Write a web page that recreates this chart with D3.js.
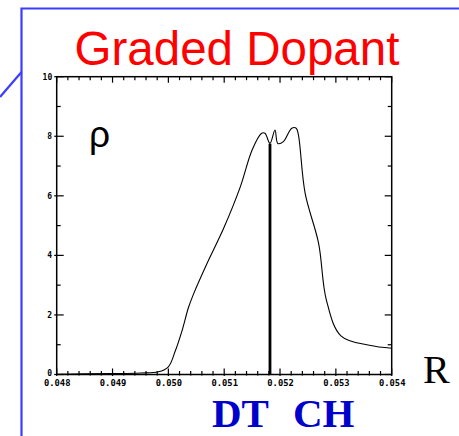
<!DOCTYPE html>
<html><head><meta charset="utf-8">
<script src="https://cdn.jsdelivr.net/npm/d3@7"></script>
<style>body{margin:0;background:#fff;}svg{display:block;}</style>
</head><body>
<script>
// Data
const radius = [0.0480,0.0485,0.0490,0.0495,0.04982,0.05000,0.05012,0.05024,0.05036,0.05045,0.05069,0.05099,0.05129,0.05150,0.05167,0.05173,0.05182,0.05191,0.05196,0.05206,0.05221,0.05229,0.05233,0.05245,0.05269,0.05283,0.05309,0.05360,0.05400];
const density = [0.01,0.02,0.03,0.05,0.09,0.26,0.77,1.44,2.25,2.70,3.72,4.91,6.31,7.54,8.10,8.10,7.76,8.21,7.76,7.82,8.27,8.27,8.04,6.08,4.41,2.50,1.30,0.98,0.88];
const interfaceR = 0.05182, interfaceTop = 7.75;
const xMajor = [0.048,0.049,0.050,0.051,0.052,0.053,0.054];
const xMinor = [0.0482,0.0484,0.0486,0.0488,0.0492,0.0494,0.0496,0.0498,0.0502,0.0504,0.0506,0.0508,0.0512,0.0514,0.0516,0.0518,0.0522,0.0524,0.0526,0.0528,0.0532,0.0534,0.0536,0.0538];
const yMajor = [0,2,4,6,8,10];
const yMinor = [1,3,5,7,9];
const title = "Graded Dopant";

const W = 459, H = 436;
const svg = d3.select("body").append("svg").attr("width", W).attr("height", H);

// Slide frame
const blue = "#3a3cff";
svg.append("path").attr("d", "M21.5,436 L21.5,8.5 L459,8.5").attr("fill","none").attr("stroke",blue).attr("stroke-width",2.2);
svg.append("line").attr("x1",0).attr("y1",97).attr("x2",21.5).attr("y2",72).attr("stroke",blue).attr("stroke-width",2.2);

// Title
svg.append("text").attr("x",237).attr("y",65).attr("text-anchor","middle")
  .attr("font-family","Liberation Sans, Arial, sans-serif").attr("font-size",47.5).attr("fill","#ff0000").text(title);

const L = 56.7, R = 391.7, T = 76.7, B = 374.5;
const x = d3.scaleLinear().domain([0.048,0.054]).range([L,R]);
const y = d3.scaleLinear().domain([0,10]).range([B,T]);

const g = svg.append("g");
g.append("rect").attr("x",L).attr("y",T).attr("width",R-L).attr("height",B-T).attr("fill","none").attr("stroke","#000").attr("stroke-width",1.5);

const tickFont = "DejaVu Sans Mono, monospace";
// bottom axis
const bx = g.append("g").attr("transform",`translate(0,${B})`).call(d3.axisBottom(x).tickValues(xMajor).tickSize(0).tickFormat(d3.format(".3f")));
bx.select(".domain").remove();
bx.selectAll("text").attr("font-family",tickFont).attr("font-size",8.8).attr("font-weight","bold").attr("dy","0.71em").attr("y",5.5).attr("fill","#000");
// ticks drawn manually (inward) on all four sides
function tk(x1,y1,x2,y2){ g.append("line").attr("x1",x1).attr("y1",y1).attr("x2",x2).attr("y2",y2).attr("stroke","#000").attr("stroke-width",1.2); }
xMajor.forEach(v=>{ tk(x(v),B+1.5,x(v),B-6); tk(x(v),T,x(v),T+6); });
xMinor.forEach(v=>{ tk(x(v),B+1,x(v),B-3.5); tk(x(v),T,x(v),T+3.5); });
yMajor.forEach(v=>{ tk(L-2.5,y(v),L+7,y(v)); tk(R,y(v),R-7,y(v)); });
yMinor.forEach(v=>{ tk(L,y(v),L+4,y(v)); tk(R,y(v),R-4,y(v)); });

const ly = g.append("g").attr("transform",`translate(${L},0)`).call(d3.axisLeft(y).tickValues(yMajor).tickSize(0).tickPadding(4.5));
ly.select(".domain").remove();
ly.selectAll("text").attr("font-family",tickFont).attr("font-size",8).attr("font-weight","bold").attr("fill","#000").attr("dy", d => d === 0 ? "0.1em" : "0.3em");

// curve
const pts = radius.map((r,i)=>[r,density[i]]);
g.append("path").datum(pts).attr("fill","none").attr("stroke","#000").attr("stroke-width",1.1)
  .attr("d", d3.line().x(d=>x(d[0])).y(d=>y(d[1])).curve(d3.curveCatmullRom.alpha(0.5)));

// interface line
g.append("line").attr("x1",x(interfaceR)).attr("x2",x(interfaceR)).attr("y1",y(0)).attr("y2",y(interfaceTop))
  .attr("stroke","#000").attr("stroke-width",2.8);

// labels
svg.append("text").attr("x",89).attr("y",147).attr("font-family","Liberation Sans, Arial, sans-serif").attr("font-size",37).attr("fill","#000").text("ρ");
svg.append("text").attr("x",423).attr("y",383).attr("font-family","Liberation Serif, Times New Roman, serif").attr("font-size",40).attr("fill","#000").text("R");
svg.append("text").attr("x",212).attr("y",427).attr("font-family","Liberation Serif, Times New Roman, serif").attr("font-weight","bold").attr("font-size",41).attr("fill","#0000cc").text("DT");
svg.append("text").attr("x",293).attr("y",427).attr("font-family","Liberation Serif, Times New Roman, serif").attr("font-weight","bold").attr("font-size",41).attr("fill","#0000cc").text("CH");
</script>
</body></html>
